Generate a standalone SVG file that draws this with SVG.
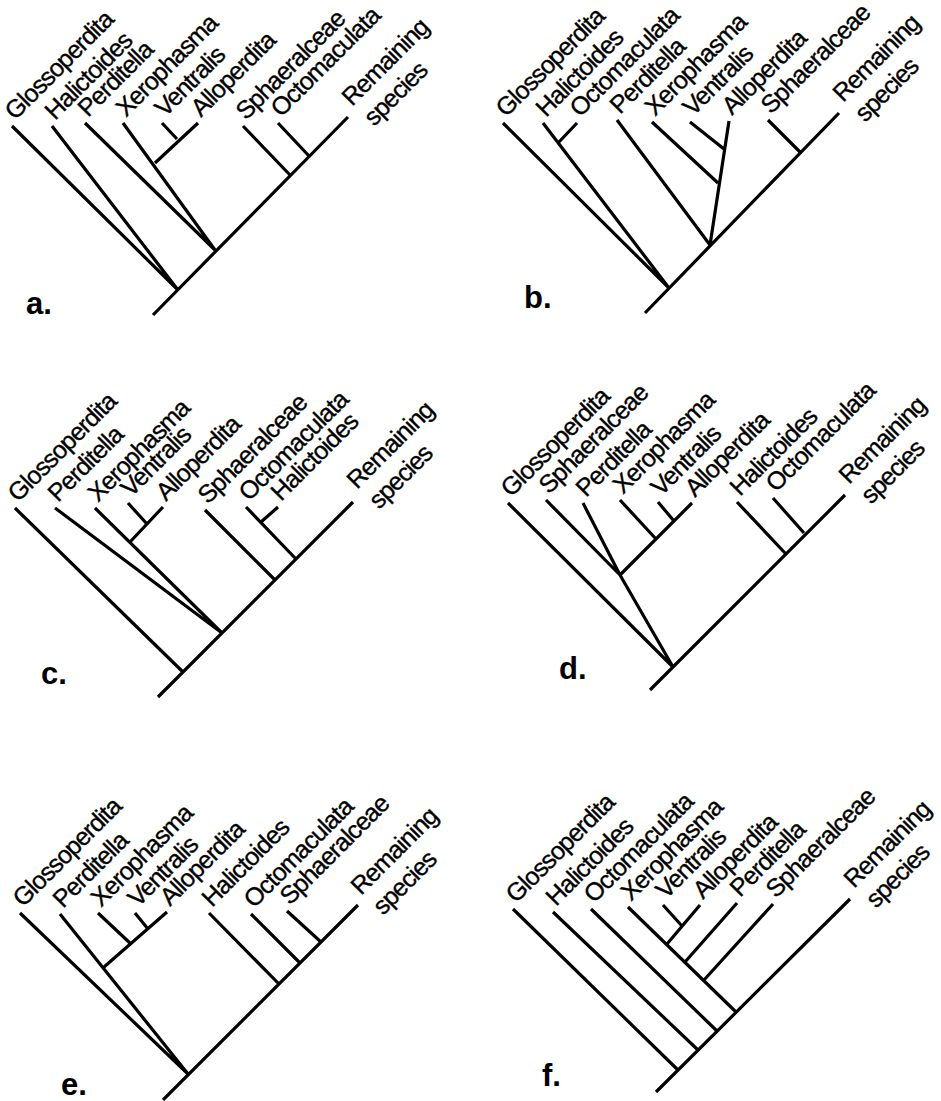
<svg xmlns="http://www.w3.org/2000/svg" width="941" height="1101" viewBox="0 0 941 1101">
<style>
.e{stroke:#000;stroke-width:3.2;fill:none;stroke-linecap:butt}
.t{font-family:"Liberation Sans",Arial,sans-serif;font-size:25px;letter-spacing:-1px;fill:#000;stroke:#000;stroke-width:0.35}
.p{font-family:"Liberation Sans",Arial,sans-serif;font-size:31px;font-weight:bold;fill:#000}
</style>
<rect width="941" height="1101" fill="#fff"/>
<g id="connectors">
<!-- a -->
<path class="e" d="M153,315L348,117 M12,126L178,290 M52,126L178,290 M85,123L215,250 M123,123L215,250 M155,163L198,123 M162,123L177,139 M243,126L290,175 M278,123L309,156"/>
<!-- b -->
<path class="e" d="M645,313L839,113 M503,123L669,288 M543,123L669,288 M577,123L558,143 M617,120L710,245 M652,122L718,183 M690,122L724,149 M729,121L710,245 M768,120L800,152"/>
<!-- c -->
<path class="e" d="M158,697L353,502 M15,508L183,672 M55,508L222,633 M95,508L222,633 M163,507L130,542 M128,503L147,524 M205,510L275,580 M246,507L296,559 M278,507L261,522"/>
<!-- d -->
<path class="e" d="M650,690L845,495 M508,503L673,667 M546,500L620,575 M583,503L620,575 M620,575L673,667 M620,575L692,503 M620,500L656,539 M658,502L674,521 M737,502L785,553 M773,498L804,533"/>
<!-- e -->
<path class="e" d="M163,1100L358,905 M20,913L188,1074 M60,914L188,1074 M104,967L167,912 M98,913L131,944 M135,913L148,929 M209,913L279,984 M251,914L300,963 M287,911L321,942"/>
<!-- f -->
<path class="e" d="M656,1092L850,899 M513,909L678,1070 M553,912L698,1050 M591,909L717,1031 M628,907L736,1012 M773,904L704,980 M737,903L685,962 M700,905L667,944 M663,905L682,926"/>
</g>
<g id="panel-a">
<text class="t" transform="translate(15,121) rotate(-45)">Glossoperdita</text>
<text class="t" transform="translate(55,121) rotate(-45)">Halictoides</text>
<text class="t" transform="translate(88,118) rotate(-45)">Perditella</text>
<text class="t" transform="translate(126,118) rotate(-45)">Xerophasma</text>
<text class="t" transform="translate(165,118) rotate(-45)">Ventralis</text>
<text class="t" transform="translate(201,118) rotate(-45)">Alloperdita</text>
<text class="t" transform="translate(246,121) rotate(-45)">Sphaeralceae</text>
<text class="t" transform="translate(281,118) rotate(-45)">Octomaculata</text>
<text class="t" transform="translate(352,107) rotate(-45)">Remaining</text>
<text class="t" transform="translate(374,127) rotate(-45)">species</text>
<text class="p" x="26" y="314">a.</text>
</g>
<g id="panel-b">
<text class="t" transform="translate(506,118) rotate(-45)">Glossoperdita</text>
<text class="t" transform="translate(546,118) rotate(-45)">Halictoides</text>
<text class="t" transform="translate(580,118) rotate(-45)">Octomaculata</text>
<text class="t" transform="translate(620,115) rotate(-45)">Perditella</text>
<text class="t" transform="translate(655,117) rotate(-45)">Xerophasma</text>
<text class="t" transform="translate(693,117) rotate(-45)">Ventralis</text>
<text class="t" transform="translate(732,116) rotate(-45)">Alloperdita</text>
<text class="t" transform="translate(771,115) rotate(-45)">Sphaeralceae</text>
<text class="t" transform="translate(843,103) rotate(-45)">Remaining</text>
<text class="t" transform="translate(865,123) rotate(-45)">species</text>
<text class="p" x="524" y="308">b.</text>
</g>
<g id="panel-c">
<text class="t" transform="translate(18,503) rotate(-45)">Glossoperdita</text>
<text class="t" transform="translate(58,503) rotate(-45)">Perditella</text>
<text class="t" transform="translate(98,503) rotate(-45)">Xerophasma</text>
<text class="t" transform="translate(131,498) rotate(-45)">Ventralis</text>
<text class="t" transform="translate(166,502) rotate(-45)">Alloperdita</text>
<text class="t" transform="translate(208,505) rotate(-45)">Sphaeralceae</text>
<text class="t" transform="translate(249,502) rotate(-45)">Octomaculata</text>
<text class="t" transform="translate(281,502) rotate(-45)">Halictoides</text>
<text class="t" transform="translate(357,490) rotate(-45)">Remaining</text>
<text class="t" transform="translate(379,510) rotate(-45)">species</text>
<text class="p" x="41" y="684">c.</text>
</g>
<g id="panel-d">
<text class="t" transform="translate(511,498) rotate(-45)">Glossoperdita</text>
<text class="t" transform="translate(549,495) rotate(-45)">Sphaeralceae</text>
<text class="t" transform="translate(586,498) rotate(-45)">Perditella</text>
<text class="t" transform="translate(623,495) rotate(-45)">Xerophasma</text>
<text class="t" transform="translate(661,497) rotate(-45)">Ventralis</text>
<text class="t" transform="translate(695,498) rotate(-45)">Alloperdita</text>
<text class="t" transform="translate(740,497) rotate(-45)">Halictoides</text>
<text class="t" transform="translate(776,493) rotate(-45)">Octomaculata</text>
<text class="t" transform="translate(849,485) rotate(-45)">Remaining</text>
<text class="t" transform="translate(871,505) rotate(-45)">species</text>
<text class="p" x="559" y="679">d.</text>
</g>
<g id="panel-e">
<text class="t" transform="translate(23,908) rotate(-45)">Glossoperdita</text>
<text class="t" transform="translate(63,909) rotate(-45)">Perditella</text>
<text class="t" transform="translate(101,908) rotate(-45)">Xerophasma</text>
<text class="t" transform="translate(138,908) rotate(-45)">Ventralis</text>
<text class="t" transform="translate(170,907) rotate(-45)">Alloperdita</text>
<text class="t" transform="translate(212,908) rotate(-45)">Halictoides</text>
<text class="t" transform="translate(254,909) rotate(-45)">Octomaculata</text>
<text class="t" transform="translate(290,906) rotate(-45)">Sphaeralceae</text>
<text class="t" transform="translate(361,896) rotate(-45)">Remaining</text>
<text class="t" transform="translate(383,916) rotate(-45)">species</text>
<text class="p" x="61" y="1095">e.</text>
</g>
<g id="panel-f">
<text class="t" transform="translate(516,904) rotate(-45)">Glossoperdita</text>
<text class="t" transform="translate(556,907) rotate(-45)">Halictoides</text>
<text class="t" transform="translate(594,904) rotate(-45)">Octomaculata</text>
<text class="t" transform="translate(631,902) rotate(-45)">Xerophasma</text>
<text class="t" transform="translate(666,900) rotate(-45)">Ventralis</text>
<text class="t" transform="translate(703,900) rotate(-45)">Alloperdita</text>
<text class="t" transform="translate(740,898) rotate(-45)">Perditella</text>
<text class="t" transform="translate(776,899) rotate(-45)">Sphaeralceae</text>
<text class="t" transform="translate(854,889) rotate(-45)">Remaining</text>
<text class="t" transform="translate(876,909) rotate(-45)">species</text>
<text class="p" x="542" y="1086">f.</text>
</g>
</svg>
